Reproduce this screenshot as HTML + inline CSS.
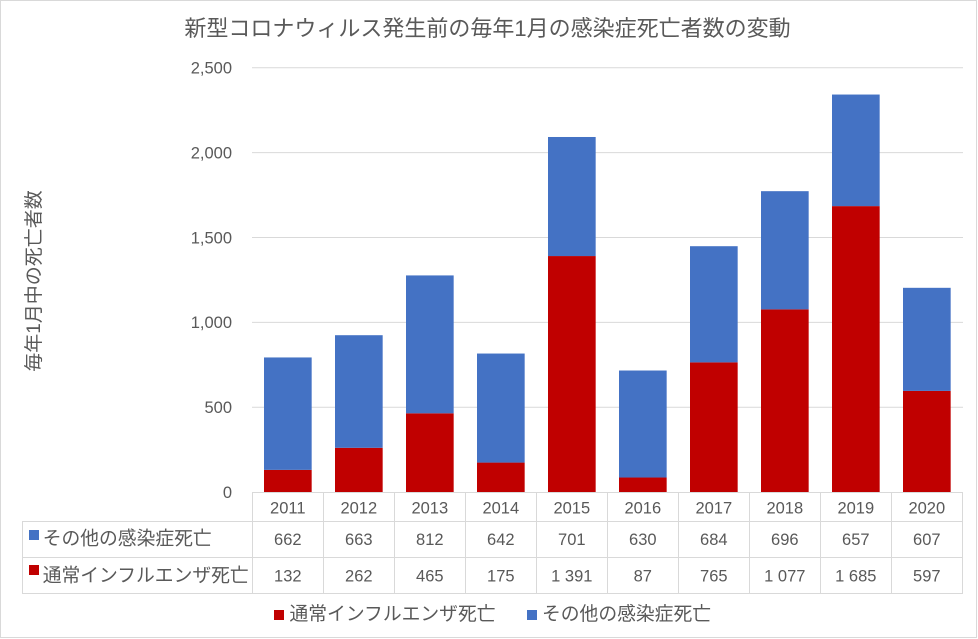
<!DOCTYPE html>
<html>
<head>
<meta charset="utf-8">
<style>
html,body{margin:0;padding:0;background:#fff;}
svg{display:block;}
text{font-family:"Liberation Sans","Noto Sans CJK JP",sans-serif;fill:#595959;}
</style>
</head>
<body>
<svg width="978" height="639" viewBox="0 0 978 639" xmlns="http://www.w3.org/2000/svg">
<rect x="0.5" y="0.5" width="976" height="637" fill="#fff" stroke="#d9d9d9" stroke-width="1"/>
<!-- title -->
<text x="487.5" y="36" font-size="22" text-anchor="middle">新型コロナウィルス発生前の毎年1月の感染症死亡者数の変動</text>
<!-- y axis title -->
<text transform="translate(40,281) rotate(-90)" font-size="19" text-anchor="middle">毎年1月中の死亡者数</text>
<!-- gridlines -->
<g stroke="#d9d9d9" stroke-width="1">
<line x1="252" y1="67.7" x2="963" y2="67.7"/>
<line x1="252" y1="152.6" x2="963" y2="152.6"/>
<line x1="252" y1="237.5" x2="963" y2="237.5"/>
<line x1="252" y1="322.4" x2="963" y2="322.4"/>
<line x1="252" y1="407.3" x2="963" y2="407.3"/>
</g>
<!-- y tick labels -->
<g font-size="16.5" text-anchor="end">
<text x="232" y="73.5">2,500</text>
<text x="232" y="158.4">2,000</text>
<text x="232" y="243.3">1,500</text>
<text x="232" y="328.2">1,000</text>
<text x="232" y="413.1">500</text>
<text x="232" y="498">0</text>
</g>
<!-- bars: scale 0.16984 px/unit, base 492.3 -->
<g>
<!-- 2011 --><rect x="264" y="469.88" width="47.67" height="22.42" fill="#C00000"/><rect x="264" y="357.45" width="47.67" height="112.43" fill="#4472C4"/>
<!-- 2012 --><rect x="335" y="447.80" width="47.67" height="44.50" fill="#C00000"/><rect x="335" y="335.20" width="47.67" height="112.60" fill="#4472C4"/>
<!-- 2013 --><rect x="406" y="413.32" width="47.67" height="78.98" fill="#C00000"/><rect x="406" y="275.42" width="47.67" height="137.90" fill="#4472C4"/>
<!-- 2014 --><rect x="477" y="462.58" width="47.67" height="29.72" fill="#C00000"/><rect x="477" y="353.54" width="47.67" height="109.04" fill="#4472C4"/>
<!-- 2015 --><rect x="548" y="256.05" width="47.67" height="236.25" fill="#C00000"/><rect x="548" y="136.99" width="47.67" height="119.06" fill="#4472C4"/>
<!-- 2016 --><rect x="619" y="477.52" width="47.67" height="14.78" fill="#C00000"/><rect x="619" y="370.52" width="47.67" height="107.00" fill="#4472C4"/>
<!-- 2017 --><rect x="690" y="362.37" width="47.67" height="129.93" fill="#C00000"/><rect x="690" y="246.20" width="47.67" height="116.17" fill="#4472C4"/>
<!-- 2018 --><rect x="761" y="309.38" width="47.67" height="182.92" fill="#C00000"/><rect x="761" y="191.17" width="47.67" height="118.21" fill="#4472C4"/>
<!-- 2019 --><rect x="832" y="206.12" width="47.67" height="286.18" fill="#C00000"/><rect x="832" y="94.54" width="47.67" height="111.58" fill="#4472C4"/>
<!-- 2020 --><rect x="903" y="390.91" width="47.67" height="101.39" fill="#C00000"/><rect x="903" y="287.81" width="47.67" height="103.10" fill="#4472C4"/>
</g>
<!-- data table lines -->
<g stroke="#d9d9d9" stroke-width="1" fill="none">
<line x1="252" y1="492.5" x2="963" y2="492.5"/>
<line x1="22" y1="521.5" x2="963" y2="521.5"/>
<line x1="22" y1="557.5" x2="963" y2="557.5"/>
<line x1="22" y1="593.5" x2="963" y2="593.5"/>
<line x1="22.5" y1="521" x2="22.5" y2="594"/>
<line x1="252.5" y1="492" x2="252.5" y2="594"/>
<line x1="323.5" y1="492" x2="323.5" y2="594"/>
<line x1="394.5" y1="492" x2="394.5" y2="594"/>
<line x1="465.5" y1="492" x2="465.5" y2="594"/>
<line x1="536.5" y1="492" x2="536.5" y2="594"/>
<line x1="607.5" y1="492" x2="607.5" y2="594"/>
<line x1="678.5" y1="492" x2="678.5" y2="594"/>
<line x1="749.5" y1="492" x2="749.5" y2="594"/>
<line x1="820.5" y1="492" x2="820.5" y2="594"/>
<line x1="891.5" y1="492" x2="891.5" y2="594"/>
<line x1="962.5" y1="492" x2="962.5" y2="594"/>
</g>
<!-- header years -->
<g font-size="16.5" text-anchor="middle">
<text x="287.8" y="513.3">2011</text>
<text x="358.8" y="513.3">2012</text>
<text x="429.8" y="513.3">2013</text>
<text x="500.8" y="513.3">2014</text>
<text x="571.8" y="513.3">2015</text>
<text x="642.8" y="513.3">2016</text>
<text x="713.8" y="513.3">2017</text>
<text x="784.8" y="513.3">2018</text>
<text x="855.8" y="513.3">2019</text>
<text x="926.8" y="513.3">2020</text>
</g>
<g font-size="16.5" text-anchor="middle">
<text x="287.8" y="545">662</text>
<text x="358.8" y="545">663</text>
<text x="429.8" y="545">812</text>
<text x="500.8" y="545">642</text>
<text x="571.8" y="545">701</text>
<text x="642.8" y="545">630</text>
<text x="713.8" y="545">684</text>
<text x="784.8" y="545">696</text>
<text x="855.8" y="545">657</text>
<text x="926.8" y="545">607</text>
</g>
<g font-size="16.5" text-anchor="middle">
<text x="287.8" y="581.7">132</text>
<text x="358.8" y="581.7">262</text>
<text x="429.8" y="581.7">465</text>
<text x="500.8" y="581.7">175</text>
<text x="571.8" y="581.7">1 391</text>
<text x="642.8" y="581.7">87</text>
<text x="713.8" y="581.7">765</text>
<text x="784.8" y="581.7">1 077</text>
<text x="855.8" y="581.7">1 685</text>
<text x="926.8" y="581.7">597</text>
</g>
<!-- table row labels -->
<rect x="29" y="530" width="10" height="10" fill="#4472C4"/>
<text x="42.7" y="544.5" font-size="18.8">その他の感染症死亡</text>
<rect x="29" y="565" width="10" height="10" fill="#C00000"/>
<text x="42.7" y="581.5" font-size="18.8">通常インフルエンザ死亡</text>
<!-- legend -->
<rect x="274" y="610" width="10" height="10" fill="#C00000"/>
<text x="289.5" y="620" font-size="18.8">通常インフルエンザ死亡</text>
<rect x="527" y="610" width="10" height="10" fill="#4472C4"/>
<text x="542" y="620" font-size="18.8">その他の感染症死亡</text>
</svg>
</body>
</html>
